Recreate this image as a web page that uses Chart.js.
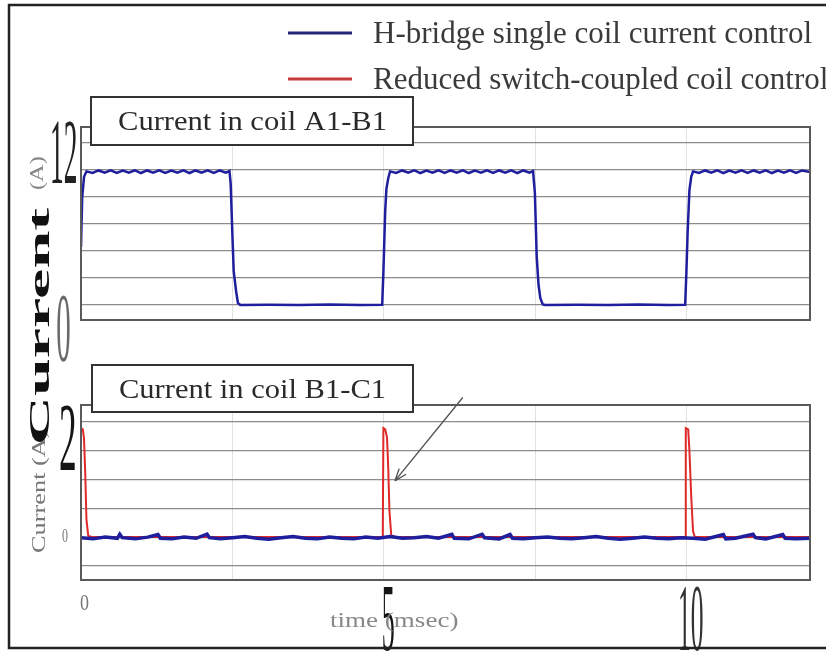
<!DOCTYPE html>
<html lang="en">
<head>
<meta charset="UTF-8">
<title>Coil currents</title>
<script src="https://cdn.jsdelivr.net/npm/chart.js"></script>
<style>
  html, body { margin: 0; padding: 0; background: #fff; overflow: hidden; width: 826px; height: 653px; }
  canvas { position: absolute; left: 0; top: 0; }
</style>
</head>
<body>
<canvas id="topChart" width="845" height="653"></canvas>
<canvas id="bottomChart" width="845" height="653"></canvas>
<script>
const seriesNames = ["H-bridge single coil current control", "Reduced switch-coupled coil control"];
const panelTitles = ["Current in coil A1-B1", "Current in coil B1-C1"];

// coil A1-B1, H-bridge control (time in msec, current in A)
const topTime = [
  0, 0.02, 0.05, 0.09,
  0.19, 0.29, 0.39, 0.49, 0.59, 0.69, 0.79, 0.89, 0.99, 1.09, 1.19, 1.29,
  1.39, 1.49, 1.59, 1.69, 1.79, 1.89, 1.99, 2.09, 2.19, 2.29, 2.39, 2.45,
  2.47, 2.5, 2.52, 2.56, 2.59, 2.63,
  3.1, 3.6, 4.1, 4.6, 4.97,
  4.99, 5.02, 5.04, 5.07, 5.1,
  5.2, 5.3, 5.4, 5.5, 5.6, 5.7, 5.8, 5.9, 6.0, 6.1, 6.2, 6.3,
  6.4, 6.5, 6.6, 6.7, 6.8, 6.9, 7.0, 7.1, 7.2, 7.3, 7.4, 7.46,
  7.49, 7.52, 7.55, 7.58, 7.62, 7.66,
  8.2, 8.7, 9.2, 9.7, 9.97,
  9.99, 10.01, 10.04, 10.07, 10.1,
  10.2, 10.3, 10.4, 10.5, 10.6, 10.7, 10.8, 10.9, 11.0, 11.1,
  11.2, 11.3, 11.4, 11.5, 11.6, 11.7, 11.8, 11.9, 12.03
];
const topCurrent = [
  4.3, 8.0, 9.5, 9.9,
  9.78, 9.97, 9.8, 9.98, 9.79, 9.96, 9.8, 9.98, 9.78, 9.97, 9.81, 9.98,
  9.79, 9.96, 9.8, 9.98, 9.78, 9.97, 9.8, 9.98, 9.79, 9.97, 9.8, 9.92,
  9.0, 5.0, 2.5, 1.0, 0.15, 0,
  0.02, 0, 0.03, 0, 0.02,
  2.4, 7.0, 8.6, 9.4, 9.9,
  9.79, 9.97, 9.8, 9.98, 9.78, 9.96, 9.8, 9.98, 9.79, 9.97, 9.8, 9.98,
  9.78, 9.96, 9.81, 9.98, 9.79, 9.97, 9.8, 9.98, 9.78, 9.97, 9.8, 9.92,
  8.3, 3.6, 1.5, 0.5, 0.05, 0,
  0.02, 0, 0.03, 0, 0.01,
  2.4, 5.3, 8.5, 9.5, 9.9,
  9.79, 9.97, 9.8, 9.98, 9.78, 9.96, 9.8, 9.98, 9.79, 9.97,
  9.8, 9.98, 9.78, 9.96, 9.8, 9.98, 9.79, 9.97, 9.85
];

// coil B1-C1, H-bridge control
const botBlueTime = [
  0, 0.2, 0.4, 0.6, 0.64, 0.68, 0.9, 1.1, 1.27, 1.31,
  1.5, 1.7, 1.9, 2.08, 2.12, 2.3, 2.5, 2.7, 2.9, 3.1,
  3.3, 3.5, 3.7, 3.9, 4.1, 4.3, 4.5, 4.7, 4.9, 5.1,
  5.3, 5.5, 5.7, 5.9, 6.12, 6.16, 6.4, 6.62, 6.66, 6.9,
  7.08, 7.12, 7.3, 7.5, 7.7, 7.9, 8.1, 8.3, 8.5, 8.7,
  8.9, 9.1, 9.3, 9.5, 9.7, 9.9, 10.1, 10.3, 10.6, 10.64,
  10.8, 11.09, 11.13, 11.3, 11.58, 11.62, 11.8, 12.03
];
const botBlue = [
  -0.01, -0.03, 0.0, -0.02, 0.05, -0.01, -0.03, 0.0, 0.045, -0.02,
  -0.03, 0.0, -0.02, 0.05, -0.01, -0.03, -0.01, 0.01, -0.02, -0.035,
  -0.01, 0.01, -0.02, -0.03, 0.0, -0.02, -0.03, 0.0, -0.02, 0.01,
  -0.02, -0.01, 0.01, -0.02, 0.05, -0.02, -0.03, 0.05, -0.01, -0.03,
  0.045, -0.02, -0.03, -0.01, 0.0, -0.02, -0.03, -0.01, 0.01, -0.02,
  -0.035, -0.02, 0.0, -0.02, -0.03, -0.01, -0.02, -0.035, 0.045, -0.03,
  -0.02, 0.05, -0.01, -0.03, 0.045, -0.02, -0.03, -0.02
];

// coil B1-C1, reduced switch-coupled control
const botRedTime = [
  0, 0.03, 0.05, 0.07, 0.09, 0.12, 0.2,
  4.9, 4.98, 4.99, 5.02, 5.05, 5.07, 5.09, 5.12, 5.2,
  9.9, 9.97, 9.98, 10.02, 10.04, 10.07, 10.1, 10.13, 10.2, 12.03
];
const botRed = [
  1.88, 1.86, 1.7, 1.1, 0.3, 0.02, 0,
  0, 0, 1.88, 1.86, 1.72, 1.2, 0.45, 0.03, 0,
  0, 0, 1.88, 1.86, 1.5, 0.7, 0.1, 0, 0, 0
];

// grid lines and tick labels
const xGrid = [0, 2.5, 5, 7.5, 10];
const xTickValues = [0, 5, 10];
const xTickLabels = ["0", "5", "10"];
const topGrid = [0, 2, 4, 6, 8, 10, 12];
const topTickValues = [12, 0];
const topTickLabels = ["12", "0"];
const botGrid = [-0.5, 0, 0.5, 1, 1.5, 2];
const botTickValues = [2, 0];
const botTickLabels = ["2", "0"];
const xTitle = "time (msec)";
const yTitle = "Current";
const yUnit = "(A)";

// arrow pointing at the spike (time, current)
const arrowFrom = [6.3, 2.41];
const arrowTo = [5.18, 0.97];

const BLUE = "#1f1f9e";
const RED = "#e02a2a";
const SERIF = "'Liberation Serif', 'DejaVu Serif', serif";

function pts(xs, ys) {
  return xs.map((x, i) => ({ x: x, y: ys[i] }));
}

// draw text so its ink fills the box (x, y, w, h); rot = reads bottom to top
function fitText(ctx, text, x, y, w, h, font, color, rot) {
  ctx.save();
  ctx.font = font;
  ctx.fillStyle = color;
  ctx.textAlign = "left";
  ctx.textBaseline = "alphabetic";
  const m = ctx.measureText(text);
  const tw = m.actualBoundingBoxLeft + m.actualBoundingBoxRight;
  const th = m.actualBoundingBoxAscent + m.actualBoundingBoxDescent;
  if (rot) {
    ctx.translate(x, y + h);
    ctx.rotate(-Math.PI / 2);
    ctx.scale(h / tw, w / th);
  } else {
    ctx.translate(x, y);
    ctx.scale(w / tw, h / th);
  }
  ctx.fillText(text, m.actualBoundingBoxLeft, m.actualBoundingBoxAscent);
  ctx.restore();
}

// text on a baseline, squeezed to a given width
function wideText(ctx, text, x, base, width, font, color) {
  ctx.save();
  ctx.font = font;
  ctx.fillStyle = color;
  ctx.textBaseline = "alphabetic";
  const m = ctx.measureText(text);
  ctx.translate(x, base);
  ctx.scale(width / m.width, 1);
  ctx.fillText(text, 0, 0);
  ctx.restore();
}

function titleBox(ctx, text, x, y, w, h, base, textW) {
  ctx.save();
  ctx.fillStyle = "#fff";
  ctx.fillRect(x, y, w, h);
  ctx.strokeStyle = "#333";
  ctx.lineWidth = 2;
  ctx.strokeRect(x, y, w, h);
  ctx.restore();
  wideText(ctx, text, x + 27, base, textW, "27px " + SERIF, "#2a2a2a");
}

function plotBorder(chart) {
  const a = chart.chartArea;
  const ctx = chart.ctx;
  ctx.save();
  ctx.strokeStyle = "#5a5a5a";
  ctx.lineWidth = 2;
  ctx.strokeRect(a.left, a.top, a.right - a.left, a.bottom - a.top);
  ctx.restore();
}

function baseOptions(pad, yMin, yMax, yGrid) {
  return {
    responsive: false,
    animation: false,
    devicePixelRatio: 1,
    layout: { padding: pad },
    plugins: { legend: { display: false }, tooltip: { enabled: false } },
    elements: { point: { radius: 0 }, line: { tension: 0 } },
    scales: {
      x: {
        type: "linear", min: 0, max: 12.03,
        afterBuildTicks: s => { s.ticks = xGrid.map(v => ({ value: v })); },
        grid: { color: "#e2e2e2", lineWidth: 1, drawTicks: false },
        border: { display: false },
        ticks: { display: false }
      },
      y: {
        type: "linear", min: yMin, max: yMax,
        afterBuildTicks: s => { s.ticks = yGrid.map(v => ({ value: v })); },
        grid: { color: "#8c8c8c", lineWidth: 1.2, drawTicks: false },
        border: { display: false },
        ticks: { display: false }
      }
    }
  };
}

const topOpts = baseOptions({ left: 81, right: 35, top: 127, bottom: 333 }, -1.11, 13.19, topGrid);
new Chart(document.getElementById("topChart"), {
  type: "line",
  data: {
    datasets: [{
      label: seriesNames[0],
      data: pts(topTime, topCurrent),
      borderColor: BLUE, borderWidth: 2.5
    }]
  },
  options: topOpts,
  plugins: [{
    id: "topDecor",
    afterDraw(chart) {
      const ctx = chart.ctx;
      const y = chart.scales.y;
      const a = chart.chartArea;
      plotBorder(chart);
      titleBox(ctx, panelTitles[0], 91, 97, 322, 48, 130, 269);
      // big squeezed tick labels
      const p12 = y.getPixelForValue(topTickValues[0]);
      fitText(ctx, topTickLabels[0], a.left - 29, p12 - 21, 24, 61, "40px " + SERIF, "#222");
      const p0 = y.getPixelForValue(topTickValues[1]);
      fitText(ctx, topTickLabels[1], a.left - 24, p0 - 8, 13, 63, "40px " + SERIF, "#6a6a6a");
    }
  }]
});

const botOpts = baseOptions({ left: 81, right: 35, top: 405, bottom: 73 }, -0.74, 2.28, botGrid);
new Chart(document.getElementById("bottomChart"), {
  type: "line",
  data: {
    datasets: [
      { label: seriesNames[0], data: pts(botBlueTime, botBlue), borderColor: BLUE, borderWidth: 3.5 },
      { label: seriesNames[1], data: pts(botRedTime, botRed), borderColor: RED, borderWidth: 2 }
    ]
  },
  options: botOpts,
  plugins: [{
    id: "bottomDecor",
    afterDraw(chart) {
      const ctx = chart.ctx;
      const x = chart.scales.x;
      const y = chart.scales.y;
      const a = chart.chartArea;
      plotBorder(chart);
      titleBox(ctx, panelTitles[1], 92, 365, 321, 47, 398, 267);

      // legend
      const font = "32px " + SERIF;
      ctx.save();
      ctx.font = font;
      const sx = 439 / ctx.measureText(seriesNames[0]).width;
      ctx.restore();
      chart.data.datasets.forEach((ds, i) => {
        const cy = 33 + i * 46;
        ctx.save();
        ctx.strokeStyle = i === 0 ? "#26267a" : "#c83a3a";
        ctx.lineWidth = 3;
        ctx.beginPath();
        ctx.moveTo(288, cy);
        ctx.lineTo(352, cy);
        ctx.stroke();
        ctx.font = font;
        ctx.fillStyle = "#3a3a3a";
        ctx.textBaseline = "alphabetic";
        ctx.translate(373, cy + 10);
        ctx.scale(sx, 1);
        ctx.fillText(ds.label, 0, 0);
        ctx.restore();
      });

      // arrow
      const x0 = x.getPixelForValue(arrowFrom[0]), y0 = y.getPixelForValue(arrowFrom[1]);
      const x1 = x.getPixelForValue(arrowTo[0]), y1 = y.getPixelForValue(arrowTo[1]);
      const ang = Math.atan2(y1 - y0, x1 - x0);
      ctx.save();
      ctx.strokeStyle = "#555";
      ctx.lineWidth = 1.4;
      ctx.beginPath();
      ctx.moveTo(x0, y0);
      ctx.lineTo(x1, y1);
      ctx.moveTo(x1, y1);
      ctx.lineTo(x1 - 13 * Math.cos(ang - 0.35), y1 - 13 * Math.sin(ang - 0.35));
      ctx.moveTo(x1, y1);
      ctx.lineTo(x1 - 13 * Math.cos(ang + 0.35), y1 - 13 * Math.sin(ang + 0.35));
      ctx.stroke();
      ctx.restore();

      // y tick labels
      const p2 = y.getPixelForValue(botTickValues[0]);
      fitText(ctx, botTickLabels[0], a.left - 21, p2 - 14, 15, 63, "40px " + SERIF, "#151515");
      const p0 = y.getPixelForValue(botTickValues[1]);
      fitText(ctx, botTickLabels[1], a.left - 19, p0 - 8, 6, 13, "14px " + SERIF, "#777");

      // x tick labels
      const q0 = x.getPixelForValue(xTickValues[0]);
      fitText(ctx, xTickLabels[0], q0 - 1, a.bottom + 14, 9, 16, "18px " + SERIF, "#777");
      const q5 = x.getPixelForValue(xTickValues[1]);
      fitText(ctx, xTickLabels[1], q5 - 1, a.bottom + 8, 11, 62, "40px " + SERIF, "#151515");
      const q10 = x.getPixelForValue(xTickValues[2]);
      fitText(ctx, xTickLabels[2], q10 - 7, a.bottom + 8, 23, 62, "40px " + SERIF, "#333");
      fitText(ctx, xTitle, 330, 613, 128, 19, "22px " + SERIF, "#888");

      // left axis titles
      fitText(ctx, yTitle + " " + yUnit, 31, 430, 18, 122, "26px " + SERIF, "#777", true);
      fitText(ctx, yUnit, 29, 157, 19, 33, "20px " + SERIF, "#888", true);
      fitText(ctx, yTitle, 30, 208, 19, 235, "bold 30px " + SERIF, "#111", true);

      // outer frame
      ctx.save();
      ctx.strokeStyle = "#222";
      ctx.lineWidth = 2.5;
      ctx.strokeRect(9, 5, 840, 643);
      ctx.restore();
    }
  }]
});
</script>
</body>
</html>
